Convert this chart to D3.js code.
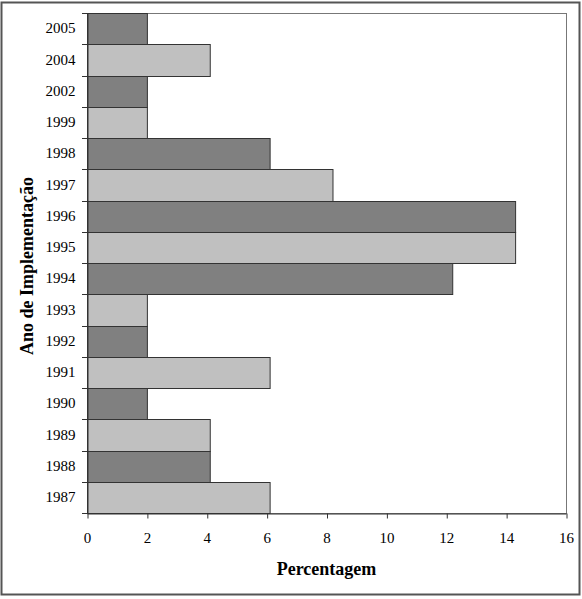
<!DOCTYPE html>
<html>
<head>
<meta charset="utf-8">
<script src="https://cdn.jsdelivr.net/npm/d3@7"></script>
<style>
  body { margin: 0; background: #fff; }
  svg text { font-family: "Liberation Serif", "Times New Roman", serif; fill: #000; }
</style>
</head>
<body>
<div id="chart"></div>
<script>
// anos de implementação, de cima para baixo
let years = ['2005', '2004', '2002', '1999', '1998', '1997', '1996', '1995', '1994', '1993', '1992', '1991', '1990', '1989', '1988', '1987'];
let percents = [2.0, 4.1, 2.0, 2.0, 6.1, 8.2, 14.3, 14.3, 12.2, 2.0, 2.0, 6.1, 2.0, 4.1, 4.1, 6.1];
let xTicks = [0, 2, 4, 6, 8, 10, 12, 14, 16];

let width = 582, height = 599;
let plot = { left: 87, right: 566, top: 13, bottom: 513 };

let svg = d3.select('#chart')
  .append('svg')
  .attr('width', width)
  .attr('height', height);

// moldura exterior
svg.append('rect')
  .attr('x', 1.5).attr('y', 2.5)
  .attr('width', 578).attr('height', 592)
  .attr('fill', 'none')
  .attr('stroke', '#555')
  .attr('stroke-width', 2);

let x = d3.scaleLinear().domain([0, 16]).range([plot.left, plot.right]);
let y = d3.scaleBand().domain(years).range([plot.top, plot.bottom]).padding(0);

// caixa da área do gráfico
svg.append('rect')
  .attr('x', plot.left + 0.5).attr('y', plot.top + 0.5)
  .attr('width', plot.right - plot.left).attr('height', plot.bottom - plot.top)
  .attr('fill', 'none')
  .attr('stroke', '#777');

let data = years.map((d, i) => ({ year: d, value: percents[i] }));
let n = years.length;

svg.selectAll('.bar')
  .data(data)
  .enter()
  .append('rect')
  .attr('class', 'bar')
  .attr('x', x(0) + 0.5)
  .attr('y', d => Math.round(y(d.year)) + 0.5)
  .attr('width', d => x(d.value) - x(0))
  .attr('height', d => Math.round(y(d.year) + y.bandwidth()) - Math.round(y(d.year)))
  .attr('fill', (d, i) => (n - 1 - i) % 2 === 0 ? '#c0c0c0' : '#808080')
  .attr('stroke', '#333')
  .attr('stroke-width', 1);

// eixo x
let xAxis = svg.append('g')
  .attr('transform', `translate(0,${plot.bottom + 0.5})`)
  .call(d3.axisBottom(x).tickValues(xTicks).tickSize(5).tickPadding(14).tickSizeOuter(0));
xAxis.select('.domain').attr('stroke', '#333');
xAxis.selectAll('.tick line').attr('stroke', '#333').attr('transform', 'translate(0.5,0)');
xAxis.selectAll('text').style('font-size', '15px');

// eixo y: rótulos
let yAxis = svg.append('g')
  .attr('transform', `translate(${plot.left + 0.5},0)`)
  .call(d3.axisLeft(y).tickSize(0).tickPadding(12));
yAxis.select('.domain').attr('stroke', '#333');
yAxis.selectAll('text').style('font-size', '15px');

// marcas do eixo y nos limites das categorias
let edges = years.map(d => Math.round(y(d))).concat([plot.bottom]);
svg.selectAll('.ytick')
  .data(edges)
  .enter()
  .append('line')
  .attr('x1', plot.left - 5).attr('x2', plot.left)
  .attr('y1', d => d + 0.5).attr('y2', d => d + 0.5)
  .attr('stroke', '#333');

svg.append('text')
  .attr('x', (plot.left + plot.right) / 2)
  .attr('y', 575)
  .attr('text-anchor', 'middle')
  .style('font-size', '18px')
  .style('font-weight', 'bold')
  .text('Percentagem');

svg.append('text')
  .attr('transform', `translate(33,${(plot.top + plot.bottom) / 2 + 3}) rotate(-90)`)
  .attr('text-anchor', 'middle')
  .style('font-size', '18px')
  .style('font-weight', 'bold')
  .text('Ano de Implementação');
</script>
</body>
</html>
